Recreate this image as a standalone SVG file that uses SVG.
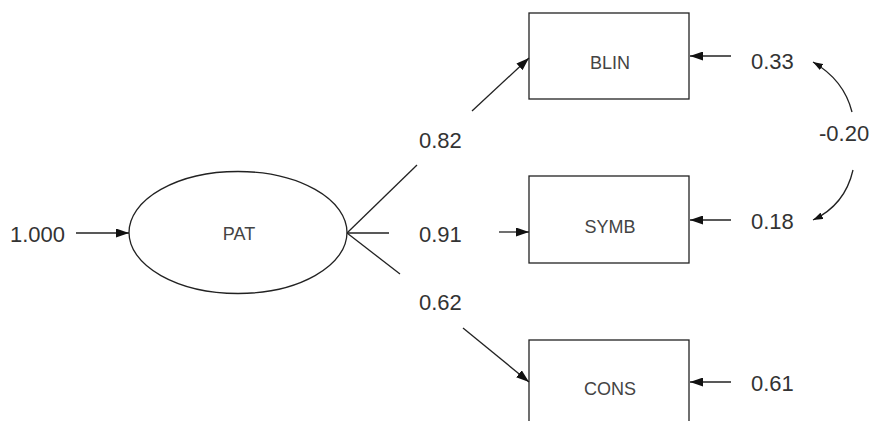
<svg xmlns="http://www.w3.org/2000/svg" width="876" height="421" viewBox="0 0 876 421">
<defs>
<marker id="ah" viewBox="0 0 13 9" refX="13" refY="4.5" markerWidth="13" markerHeight="9" markerUnits="userSpaceOnUse" orient="auto">
<path d="M0,0 L13,4.5 L0,9 Z" fill="#111"/>
</marker>
<marker id="ahs" viewBox="0 0 10 7" refX="10" refY="3.5" markerWidth="10" markerHeight="7" markerUnits="userSpaceOnUse" orient="auto">
<path d="M0,0 L10,3.5 L0,7 Z" fill="#111"/>
</marker>
<style>
.shape{fill:#fff;stroke:#222;stroke-width:1.3}
.ln{fill:none;stroke:#222;stroke-width:1.3}
.num{font-family:"Liberation Sans",Arial,sans-serif;font-size:22px;fill:#333;dominant-baseline:central}
.lbl{font-family:"Liberation Sans",Arial,sans-serif;font-size:18px;fill:#444;text-anchor:middle;dominant-baseline:central}
</style>
</defs>
<rect width="876" height="421" fill="#fff"/>
<g id="PAT">
<ellipse class="shape" cx="238" cy="232.5" rx="109" ry="61"/>
<text class="lbl" x="239" y="234">PAT</text>
</g>
<g id="BLIN">
<rect class="shape" x="529" y="13" width="160" height="86"/>
<text class="lbl" x="610" y="63">BLIN</text>
</g>
<g id="SYMB">
<rect class="shape" x="529" y="176" width="160" height="87"/>
<text class="lbl" x="610" y="227">SYMB</text>
</g>
<g id="CONS">
<rect class="shape" x="529" y="340" width="160" height="95"/>
<text class="lbl" x="610" y="389">CONS</text>
</g>
<g id="connectors">
<line class="ln" x1="76" y1="233" x2="129" y2="233" marker-end="url(#ah)"/>
<line class="ln" x1="347" y1="233" x2="417" y2="165"/>
<line class="ln" x1="472" y1="111" x2="529" y2="58" marker-end="url(#ah)"/>
<line class="ln" x1="347" y1="233" x2="389" y2="233"/>
<line class="ln" x1="499" y1="232" x2="529" y2="232" marker-end="url(#ah)"/>
<line class="ln" x1="347" y1="233" x2="400" y2="274"/>
<line class="ln" x1="463" y1="328" x2="529" y2="382" marker-end="url(#ah)"/>
<line class="ln" x1="731" y1="56" x2="690" y2="56" marker-end="url(#ah)"/>
<line class="ln" x1="731" y1="220" x2="690" y2="220" marker-end="url(#ah)"/>
<line class="ln" x1="731" y1="382" x2="690" y2="382" marker-end="url(#ah)"/>
<path class="ln" d="M852,112 Q844,80 813,62" marker-end="url(#ahs)"/>
<path class="ln" d="M853,170 Q845,205 813,220" marker-end="url(#ahs)"/>
</g>
<g id="labels">
<text class="num" x="10" y="234">1.000</text>
<text class="num" x="419" y="140">0.82</text>
<text class="num" x="419" y="234">0.91</text>
<text class="num" x="419" y="302">0.62</text>
<text class="num" x="751" y="61">0.33</text>
<text class="num" x="751" y="221">0.18</text>
<text class="num" x="751" y="383">0.61</text>
<text class="num" x="819" y="133">-0.20</text>
</g>
</svg>
